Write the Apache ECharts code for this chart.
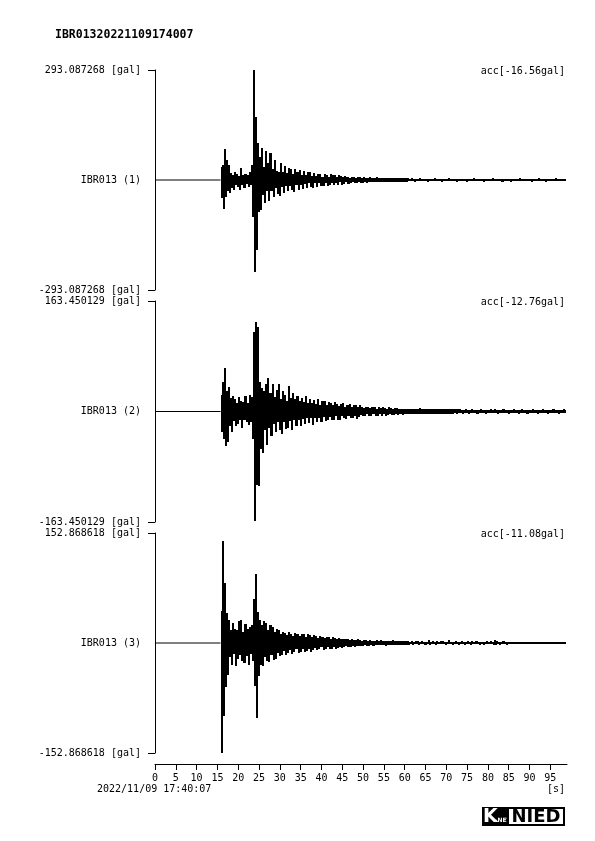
<!DOCTYPE html>
<html><head><meta charset="utf-8">
<script src="https://cdn.jsdelivr.net/npm/echarts@6/dist/echarts.min.js"></script>
<style>html,body{margin:0;padding:0;background:#fff}#c{width:595px;height:841px}</style>
</head><body><div id="c"></div>
<script>
const TITLE = 'IBR01320221109174007';
const START_TIME = '2022/11/09 17:40:07';
const X_UNIT = '[s]';
const STATIONS = ['IBR013 (1)', 'IBR013 (2)', 'IBR013 (3)'];
const PEAKS = [293.087268, 163.450129, 152.868618];
const OFFSETS = ['-16.56', '-12.76', '-11.08'];
const CODA_T0 = 15.75;   // s, first sample of the *_coda arrays (record is flat, 0 gal, before)
const TAIL_T0 = 61.0;    // s, first sample of the *_tail arrays
const DT = 0.25;         // s, sample spacing
const X_MAX = 99;
const X_INTERVAL = 5;

// acceleration [gal], alternating extremes
const ch1_coda = [
  35, -48, 40, -78, 83, -45, 52, -30, 40, -35, 18, -22, 14, -26, 21, -12, 16, -18, 11, -27,
  31, -14, 13, -20, 16, -11, 12, -18, 20, -13, 40, -98, 293, -245, 168, -186, 98, -84, 62, -80,
  85, -40, 35, -62, 78, -30, 45, -55, 71, -28, 30, -45, 53, -20, 25, -38, 22, -42, 45, -18,
  20, -35, 38, -16, 18, -30, 33, -15, 28, -27, 15, -33, 30, -14, 22, -27, 27, -12, 14, -25,
  24, -10, 12, -22, 20, -9, 22, -19, 10, -20, 18, -9, 11, -18, 16, -8, 17, -16, 9, -15,
  16, -8, 14, -15, 8, -13, 15, -7, 12, -14, 13, -7, 8, -12, 13, -6, 11, -12, 7, -10,
  11, -6, 9, -10, 6, -9, 8, -5, 9, -8, 5, -8, 7, -5, 8, -7, 5, -7, 8, -4,
  6, -7, 5, -6, 7, -4, 6, -6, 4, -6, 7, -4, 5, -6, 5, -4, 6, -5, 4, -6,
  5, -4, 5, -5, 4, -5, 6, -4, 4, -5, 5, -4, 4, -5, 5, -4, 4, -4, 5, -4,
  4
];
const ch1_tail = [
  -3.5, 3, -3, 4, -3, 3.5, -4, 3, -3, 3, -3.5, 4, -3, 3, -3, 3.5,
  -3, 3.5, -4, 3, -3, 3, -3.5, 3, -3, 4, -3, 3, -3.5, 3, -3, 3,
  -4, 3, -3, 3.5, -3, 3, -3, 5, -3, 3, -3.5, 3, -3, 3, -4, 3.5,
  -3, 3, -3, 3.5, -3.5, 3, -3, 3, -4, 3, -3, 3.5, -3, 3, -3, 4,
  -3, 3, -3.5, 3, -3, 3, -3, 3.5, -4, 3, -3, 3, -3.5, 3, -3, 3,
  -3, 4, -3, 3, -3.5, 3, -3, 3, -3, 3.5, -4, 3, -3, 3, -3.5, 3,
  -3, 3, -4, 3.5, -3, 3, -3, 3, -3.5, 3, -3, 4, -3, 3, -3, 3.5,
  -3.5, 3, -3, 3, -3, 3.5, -4, 3, -3, 3, -3, 3, -3.5, 4, -3, 3,
  -3, 3.5, -3, 3, -4, 3, -3, 3, -3.5, 3, -3, 3, -3, 4, -3, 3,
  -3.5, 3, -3, 3, -3, 3.5, -3, 3
];
const ch2_coda = [
  25, -30, 43, -40, 65, -51, 30, -45, 36, -22, 20, -31, 23, -14, 18, -22, 12, -19, 22, -12,
  16, -24, 14, -13, 23, -16, 12, -20, 24, -15, 22, -40, 117, -162, 132, -108, 125, -110, 43, -55,
  35, -61, 30, -28, 40, -50, 50, -25, 28, -36, 40, -18, 22, -30, 32, -16, 40, -28, 18, -33,
  30, -15, 25, -26, 16, -24, 38, -14, 20, -28, 28, -13, 18, -22, 23, -12, 15, -21, 20, -11,
  14, -18, 23, -10, 12, -17, 19, -10, 13, -20, 17, -9, 11, -15, 18, -9, 10, -16, 15, -8,
  16, -14, 9, -13, 14, -8, 12, -13, 9, -12, 14, -7, 11, -12, 8, -13, 11, -7, 12, -10,
  7, -11, 10, -6, 11, -9, 6, -10, 9, -6, 9, -11, 6, -8, 9, -5, 7, -7, 5, -6,
  7, -4, 6, -6, 5, -7, 6, -4, 6, -6, 4, -7, 6, -4, 5, -6, 6, -4, 5, -6,
  4, -5, 6, -4, 5, -5, 4, -5, 5, -4, 5, -5, 4, -4, 4, -5, 4, -4, 4, -4,
  4
];
const ch2_tail = [
  -4, 3.5, -3.5, 4, -3, 4, -4, 3.5, -3.5, 3, -4, 4.5, -3.5, 3.5, -3, 4,
  -3.5, 4, -4, 3, -3.5, 3.5, -3, 4, -4, 3.5, -3, 3.5, -3.5, 3, -4, 3.5,
  -3.5, 3, -3, 3.5, -3, 3, -3.5, 3, -3, 3.5, -3, 3, -2.5, 3, -3, 3,
  -2.5, 3, -2.5, 2.5, -3, 2.5, -2.5, 3, -2.5, 2.5, -3, 2.5, -2.5, 3, -2.5, 2.5,
  -2.5, 2.5, -3, 2.5, -2.5, 3, -2.5, 2.5, -2.5, 2.5, -3, 2.5, -2.5, 2.5, -2.5, 3,
  -2.5, 2.5, -2.5, 3, -2.5, 2.5, -3, 2.5, -2.5, 2.5, -2.5, 3, -2.5, 2.5, -2.5, 2.5,
  -3, 2.5, -2.5, 2.5, -2.5, 3, -2.5, 2.5, -2.5, 2.5, -3, 2.5, -2.5, 3, -2.5, 2.5,
  -2.5, 2.5, -3, 2.5, -2.5, 2.5, -2.5, 3, -2.5, 2.5, -2.5, 2.5, -3, 2.5, -2.5, 2.5,
  -2.5, 3, -2.5, 2.5, -2.5, 2.5, -3, 2.5, -2.5, 2.5, -2.5, 3, -2.5, 2.5, -2.5, 2.5,
  -3, 2.5, -2.5, 2.5, -2.5, 3, -2.5, 2.5
];
const ch3_coda = [
  44, -152.8, 142, -102, 84, -61, 42, -45, 32, -20, 18, -30, 28, -15, 20, -32, 18, -22, 30, -16,
  32, -25, 15, -28, 27, -18, 20, -30, 22, -15, 25, -25, 61, -60, 96, -104, 43, -46, 32, -30,
  25, -32, 30, -20, 28, -25, 18, -27, 25, -16, 22, -24, 15, -22, 20, -14, 18, -18, 12, -16,
  15, -11, 14, -16, 11, -14, 15, -10, 13, -15, 10, -13, 14, -9, 12, -14, 10, -12, 13, -9,
  12, -13, 8, -11, 12, -8, 11, -12, 8, -10, 11, -7, 10, -10, 7, -9, 10, -6, 9, -10,
  7, -8, 9, -6, 8, -8, 6, -8, 8, -5, 7, -8, 5, -7, 7, -5, 6, -7, 5, -6,
  5, -4, 5, -5, 4, -5, 5, -4, 4, -5, 4, -4, 5, -4, 4, -4, 3, -4, 4, -3,
  4, -4, 3, -4, 4, -3, 3, -4, 3, -3, 4, -3, 3, -3, 4, -3, 3, -3, 3, -4,
  3, -3, 3, -3, 3, -3, 4, -3, 3, -3, 3, -3, 3, -2.5, 3, -3, 2.5, -3, 2.5, -2.5,
  3
];
const ch3_tail = [
  -2.5, 2, -2, 2.5, -2.5, 2, -2, 2.5, -2, 2.5, -2.5, 2, -2, 2.5, -2, 2,
  -2.5, 2, -2, 4, -2.5, 2, -2, 2.5, -2, 2, -2.5, 2.5, -2, 2, -2, 2.5,
  -2, 2.5, -2, 2, -2.5, 2, -2, 3.5, -2, 2, -2.5, 2, -2, 2.5, -2, 2,
  -2.5, 2, -2, 2.5, -2, 2, -2.5, 2, -2, 2.5, -2, 2, -3, 2.5, -2, 2,
  -2, 2.5, -2, 2, -2.5, 2, -2, 2, -2.5, 2, -2, 2.5, -2, 2, -2, 2.5,
  -2, 2, -2.5, 4, -3, 2.5, -2, 2, -2.5, 2, -2, 2.5, -2, 2, -2.5, 2,
  -2, 2, -1.5, 1,
  -0.7, 0.7, -0.8, 0.7, -0.7, 0.7, -0.7, 0.8, -0.7, 0.7, -0.7, 0.7, -0.8, 0.7, -0.7, 0.7,
  -0.7, 0.8, -0.7, 0.7, -0.7, 0.7, -0.8, 0.7, -0.7, 0.7, -0.7, 0.7, -0.7, 0.8, -0.7, 0.7,
  -0.7, 0.7, -0.8, 0.7, -0.7, 0.7, -0.7, 0.7, -0.7, 0.8, -0.7, 0.7, -0.7, 0.7, -0.8, 0.7,
  -0.7, 0.7, -0.7, 0.7
];
const CHANNELS = [[ch1_coda, ch1_tail], [ch2_coda, ch2_tail], [ch3_coda, ch3_tail]];

const FONT = '"DejaVu Sans Mono", "Liberation Mono", monospace';
const GRIDS = [
  {left: 155, top: 70, width: 412, height: 220},
  {left: 155, top: 301, width: 412, height: 221},
  {left: 155, top: 533, width: 412, height: 220}
];
const ACC_Y = [71, 302, 534];

// samples as [t, a]
function samples(coda, tail) {
  const d = [];
  coda.forEach((v, i) => d.push([CODA_T0 + i * DT, v]));
  tail.forEach((v, i) => d.push([TAIL_T0 + i * DT, v]));
  return d;
}
// each column: [t_i, a_i, t_next, a_next] drawn as the filled span between the two extremes
function columns(s) {
  const d = [];
  for (let i = 0; i + 1 < s.length; i++) d.push([s[i][0], s[i][1], s[i + 1][0], s[i + 1][1]]);
  return d;
}
function renderColumn(params, api) {
  const a = api.coord([api.value(0), api.value(1)]);
  const b = api.coord([api.value(2), api.value(3)]);
  const x0 = Math.round(a[0]);
  const x1 = Math.max(x0 + 1, Math.round(b[0]));
  const y0 = Math.round(Math.min(a[1], b[1]));
  const y1 = Math.max(y0 + 1, Math.round(Math.max(a[1], b[1])));
  return {type: 'rect', shape: {x: x0, y: y0, width: x1 - x0, height: y1 - y0}, style: {fill: '#000'}};
}

const chart = echarts.init(document.getElementById('c'), null, {renderer: 'canvas'});
const labelStyle = {color: '#000', fontFamily: FONT, fontSize: 10};

const series = [];
CHANNELS.forEach((c, k) => {
  const s = samples(c[0], c[1]);
  series.push({
    type: 'line', xAxisIndex: k, yAxisIndex: k, data: [[0, 0], [CODA_T0, 0]],
    showSymbol: false, symbol: 'none', silent: true, lineStyle: {color: '#000', width: 1}
  });
  series.push({
    type: 'custom', xAxisIndex: k, yAxisIndex: k, coordinateSystem: 'cartesian2d',
    data: columns(s), renderItem: renderColumn, encode: {x: [0, 2], y: [1, 3]},
    silent: true, clip: true
  });
});

const option = {
  animation: false,
  backgroundColor: '#fff',
  grid: GRIDS,
  xAxis: [0, 1, 2].map(k => ({
    gridIndex: k, type: 'value', min: 0, max: X_MAX, interval: X_INTERVAL,
    show: k === 2, position: 'bottom', offset: 11,
    axisLine: {show: true, onZero: false, lineStyle: {color: '#000', width: 1}},
    axisTick: {show: true, length: 6, inside: false, lineStyle: {color: '#000', width: 1}},
    axisLabel: Object.assign({margin: 9, showMaxLabel: false}, labelStyle),
    splitLine: {show: false}
  })),
  yAxis: PEAKS.map((p, k) => ({
    gridIndex: k, type: 'value', min: -p, max: p,
    axisLine: {show: true, onZero: false, lineStyle: {color: '#000', width: 1}},
    axisTick: {show: true, customValues: [-p, p], length: 7, inside: false, lineStyle: {color: '#000', width: 1}},
    axisLabel: Object.assign({
      show: true, customValues: [-p, 0, p], margin: 14,
      formatter: v => Math.abs(v) < 1e-9 ? STATIONS[k] : (v > 0 ? '' : '-') + p.toFixed(6) + ' [gal]'
    }, labelStyle),
    splitLine: {show: false}
  })),
  series: series,
  graphic: [
    {type: 'text', x: 55, y: 35, style: {text: TITLE, font: 'bold 11.5px ' + FONT, fill: '#000', verticalAlign: 'middle'}},
    ...OFFSETS.map((o, k) => ({type: 'text', x: 565, y: ACC_Y[k], style: {text: 'acc[' + o + 'gal]', font: '10px ' + FONT, fill: '#000', align: 'right', verticalAlign: 'middle'}})),
    {type: 'text', x: 97, y: 789, style: {text: START_TIME, font: '10px ' + FONT, fill: '#000', verticalAlign: 'middle'}},
    {type: 'text', x: 565, y: 789, style: {text: X_UNIT, font: '10px ' + FONT, fill: '#000', align: 'right', verticalAlign: 'middle'}},
    {type: 'rect', shape: {x: 482, y: 807, width: 26, height: 19}, style: {fill: '#000'}},
    {type: 'text', x: 483, y: 817, style: {text: 'K', font: 'bold 19px "DejaVu Sans"', fill: '#fff', verticalAlign: 'middle'}},
    {type: 'text', x: 495, y: 820, style: {text: '-NET', font: 'bold 6px "DejaVu Sans"', fill: '#fff', verticalAlign: 'middle'}},
    {type: 'rect', shape: {x: 508, y: 808, width: 56, height: 17}, style: {fill: '#fff', stroke: '#000', lineWidth: 2}},
    {type: 'text', x: 536, y: 817, style: {text: 'NIED', font: 'bold 18px "DejaVu Sans"', fill: '#000', align: 'center', verticalAlign: 'middle'}}
  ]
};
chart.setOption(option);
</script>
</body></html>
